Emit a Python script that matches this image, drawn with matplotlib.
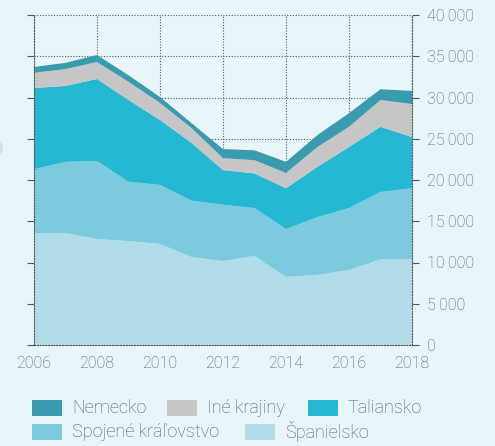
import numpy as np
import matplotlib
matplotlib.use("Agg")
import matplotlib.pyplot as plt
from matplotlib.patches import Rectangle, Ellipse
from matplotlib.ticker import FuncFormatter

plt.rcParams["font.family"] = ["Roboto", "DejaVu Sans"]
plt.rcParams["font.weight"] = "light"

years = np.arange(2006, 2019)
spanielsko = [13570, 13570, 12850, 12600, 12250, 10670, 10180, 10800, 8250, 8500, 9100, 10400, 10400]
spojene = [7730, 8630, 9450, 7200, 7150, 6830, 6820, 5800, 5810, 7000, 7500, 8150, 8600]
taliansko = [9850, 9200, 9950, 9900, 7870, 7000, 4200, 4200, 4940, 6100, 7400, 7900, 6200]
ine = [1850, 2050, 2050, 2200, 2080, 1800, 1450, 1600, 1850, 2400, 2450, 3250, 4000]
nemecko = [700, 750, 850, 800, 710, 600, 1100, 1200, 1350, 1450, 1650, 1300, 1600]

names = ["Španielsko", "Spojené kráľovstvo", "Taliansko", "Iné krajiny", "Nemecko"]
colors = ["#b1dcea", "#7ccadd", "#25b8d2", "#c6c6c6", "#3a9aae"]
bg = "#e8f5f9"
txt = "#5a5a5a"
W, H = 495, 446

fig = plt.figure(figsize=(W / 100, H / 100), dpi=100, facecolor=bg)
ax = fig.add_axes([34/W, 101/H, 378/W, 330/H], facecolor=bg)

ax.stackplot(years, spanielsko, spojene, taliansko, ine, nemecko,
             colors=colors, labels=names, linewidth=0)

ax.set_xlim(2006, 2018)
ax.set_ylim(0, 40000)
ax.set_xticks(range(2006, 2019, 2))
ax.set_yticks(range(0, 40001, 5000))
ax.yaxis.tick_right()
ax.yaxis.set_major_formatter(FuncFormatter(lambda v, p: f"{int(v):,}".replace(",", "\u2009")))

ax.set_axisbelow(True)
ax.grid(True, color="#555555", linestyle=(0, (1, 1.5)), linewidth=0.8)
for s in ax.spines.values():
    s.set_linestyle((0, (1, 1.5)))
    s.set_color("#555555")
    s.set_linewidth(0.8)
    s.set_zorder(5)
ax.spines["top"].set_visible(False)

ax.tick_params(axis="y", right=True, left=True, length=5, color="#555555",
               labelsize=11.5, labelcolor=txt, pad=6)
ax.tick_params(axis="x", length=0, labelsize=11.5, labelcolor=txt, pad=8)

# legend laid out like the original (flowing rows)
col = dict(zip(names, colors))
entries = [("Nemecko", 32, 408), ("Iné krajiny", 167, 408), ("Taliansko", 308, 408),
           ("Spojené kráľovstvo", 32, 432), ("Španielsko", 245, 432)]
for name, x, y in entries:
    fig.patches.append(Rectangle((x / W, 1 - (y + 8) / H), 30 / W, 16 / H,
                                 transform=fig.transFigure, facecolor=col[name],
                                 edgecolor="none"))
    fig.text((x + 40) / W, 1 - y / H, name, fontsize=13, color=txt, va="center")

# faint decoration cut off at left edge
fig.patches.append(Ellipse((-3 / W, 1 - 148 / H), 12 / W, 14 / H,
                           transform=fig.transFigure, facecolor="#c5e6f1",
                           edgecolor="none"))

fig.savefig("out.png", dpi=100, facecolor=bg)
